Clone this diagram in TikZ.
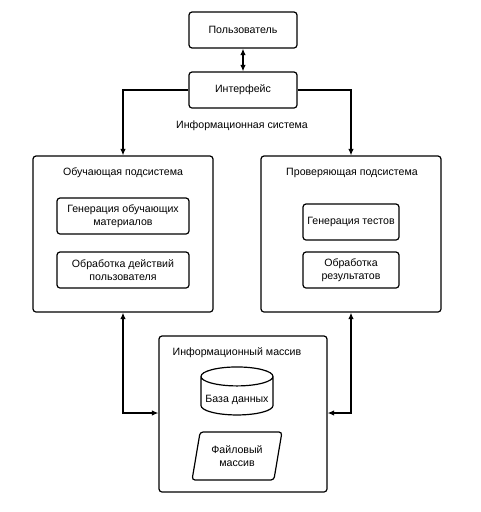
\documentclass[tikz,border=0pt]{standalone}
\usepackage{fontspec}
\setmainfont{Liberation Sans}
\usetikzlibrary{arrows.meta,shapes.geometric,positioning}
\begin{document}
\begin{tikzpicture}[x=1pt,y=-1pt,
  box/.style={draw,line width=1.2pt,rounded corners=3pt,align=center,font=\fontsize{10.6}{13}\selectfont,inner sep=0pt},
  big/.style={draw,line width=1.2pt,rounded corners=3pt,inner sep=0pt},
  lbl/.style={font=\fontsize{10.6}{13}\selectfont,inner sep=0pt},
  conn/.style={line width=1.2pt,{Latex[length=6.5pt,width=5.5pt]}-{Latex[length=6.5pt,width=5.5pt]}},
  arr/.style={line width=1.2pt,-{Latex[length=6.5pt,width=5.5pt]}}]
\useasboundingbox (0,0) rectangle (480,512);
\node[box,minimum width=108pt,minimum height=36pt] (user) at (243,30) {Пользователь};
\node[box,minimum width=108pt,minimum height=36pt] (iface) at (243,90) {Интерфейс};
\node[lbl] (sys) at (242,126) {Информационная система};
\node[big,minimum width=180pt,minimum height=156pt] (learn) at (123,234) {};
\node[lbl] (learnt) at (123,173) {Обучающая подсистема};
\node[box,minimum width=132pt,minimum height=36pt] (gen) at (123,216) {Генерация обучающих\\материалов};
\node[box,minimum width=132pt,minimum height=36pt] (proc) at (123,270) {Обработка действий\\пользователя};
\node[big,minimum width=180pt,minimum height=156pt] (check) at (351,234) {};
\node[lbl] (checkt) at (352,173) {Проверяющая подсистема};
\node[box,minimum width=96pt,minimum height=36pt] (tests) at (351,222) {Генерация тестов};
\node[box,minimum width=96pt,minimum height=36pt] (res) at (351,270) {Обработка\\результатов};
\node[big,minimum width=168pt,minimum height=156pt] (mass) at (243,414) {};
\node[lbl] (masst) at (237,353) {Информационный массив};
\node[cylinder,shape border rotate=90,draw,line width=1.2pt,aspect=0.3,minimum width=72pt,minimum height=48pt,font=\fontsize{10.6}{13}\selectfont,inner sep=0pt,text height=16pt,text depth=2.2pt] (db) at (237,396) {База данных};
\node[trapezium,trapezium left angle=75,trapezium right angle=105,draw,line width=1.2pt,rounded corners=3pt,minimum width=90pt,minimum height=48pt,align=center,font=\fontsize{10.6}{13}\selectfont,inner sep=0pt,trapezium stretches=true] (file) at (237,456) {Файловый\\массив};
\draw[conn] (user) -- (iface);
\draw[arr] (iface.west) -| (learn.north);
\draw[arr] (iface.east) -| (check.north);
\coordinate (lc) at (123,413);
\coordinate (rc) at (351,413);
\draw[conn] (learn.south) -- (lc) -- (mass.west |- lc);
\draw[conn] (check.south) -- (rc) -- (mass.east |- rc);
\end{tikzpicture}
\end{document}
